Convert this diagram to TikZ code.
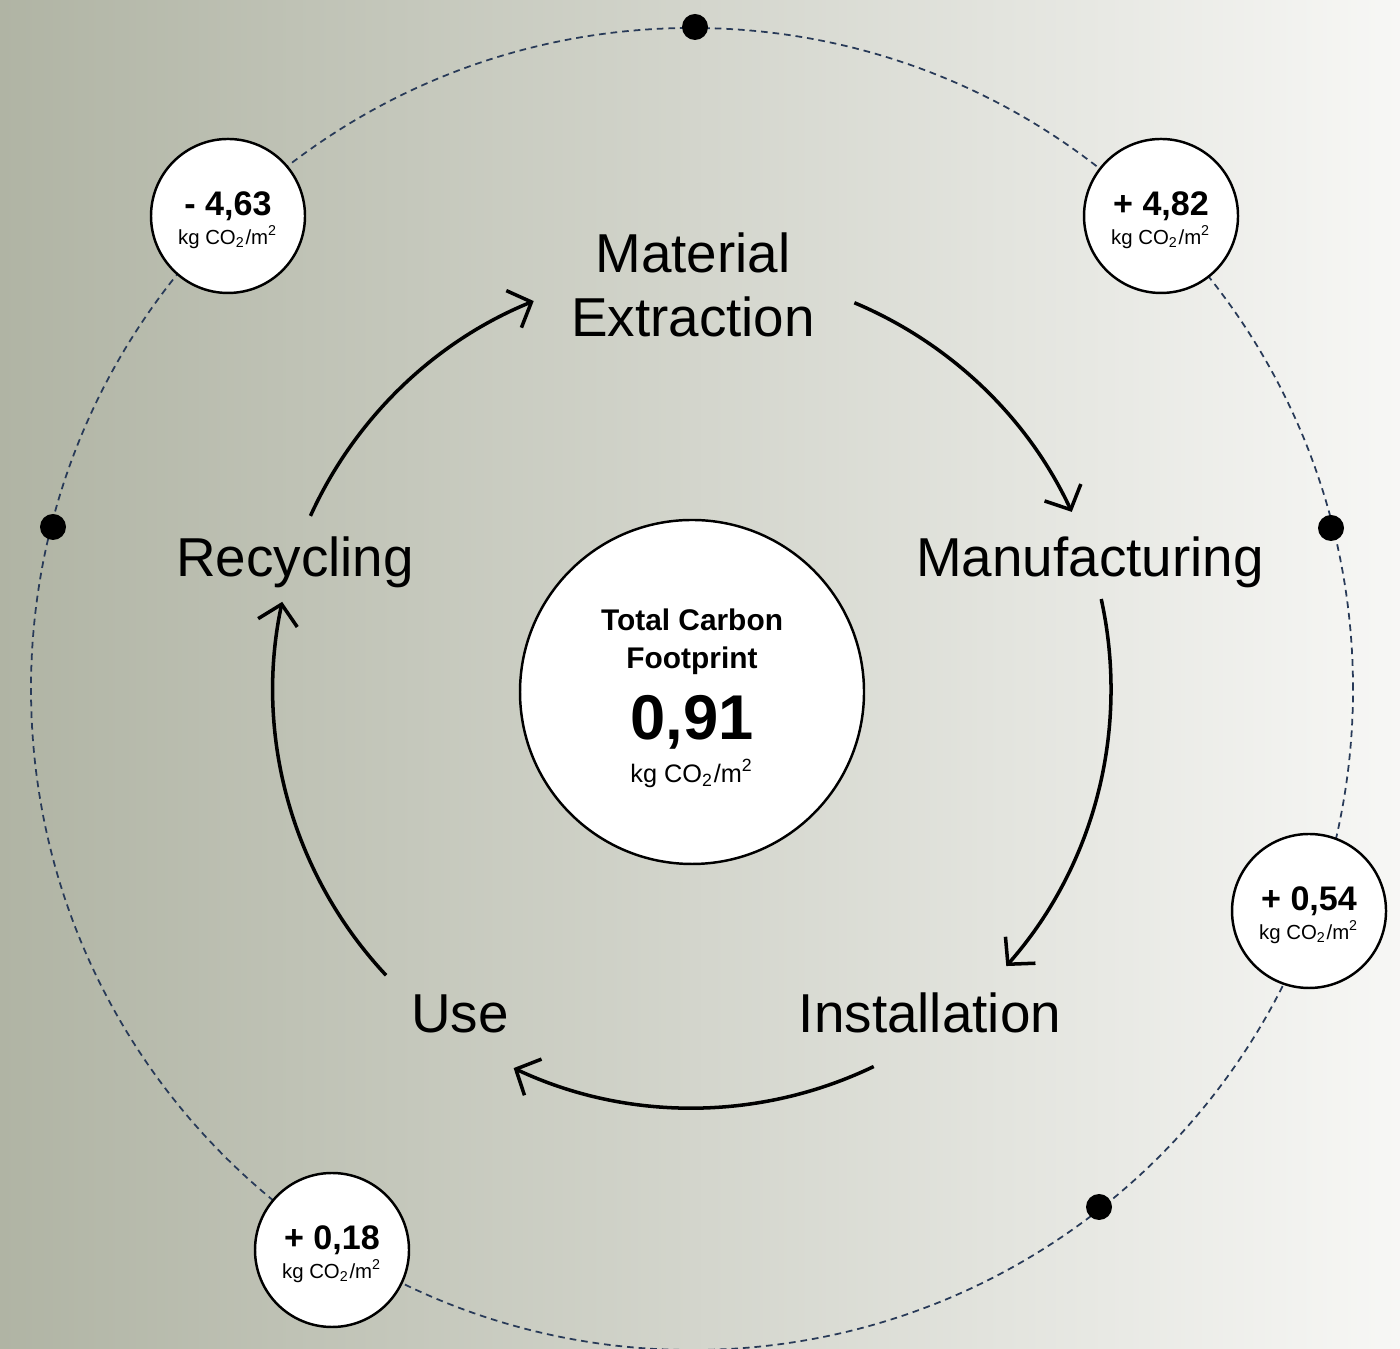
\documentclass[tikz,border=0pt]{standalone}
\usepackage{fontspec}
\setmainfont{Liberation Sans}
\usetikzlibrary{arrows.meta}

\definecolor{bgleft}{RGB}{176,180,164}
\definecolor{bgright}{RGB}{247,247,245}
\definecolor{orbit}{RGB}{40,58,88}
\newcommand{\kgunit}{kg CO\textsubscript{2}/m\textsuperscript{2}}
\newcommand{\valtext}[1]{{\fontsize{9.7}{12}\selectfont\bfseries\rule{0pt}{9.2pt}#1}\\\kgunit}

\begin{document}
\begin{tikzpicture}[x=0.1mm, y=0.1mm,
		every path/.style={>={Straight Barb[length=1.9mm, width=4mm]}},
		stage/.style={font=\fontsize{15.6}{18.2}\selectfont, inner sep=0pt, align=center},
		val/.style={circle, draw, fill=white, line width=0.7pt, minimum size=15.4mm,
			inner sep=0pt, align=center, font=\fontsize{5.8}{8}\selectfont},
		dot/.style={circle, fill=black, minimum size=2.6mm, inner sep=0pt},
		cyc/.style={->, line width=1pt}]
	\shade[left color=bgleft, right color=bgright] (0,0) rectangle (1400,1348);
	\useasboundingbox (0,0) rectangle (1400,1348);

	\coordinate (C) at (692,659);
	\draw[orbit, line width=0.5pt, dash pattern=on 1.9pt off 1.4pt] (C) circle[radius=661];

	\node[dot] (d1) at (695,1321) {};
	\node[dot] (d2) at (53,821) {};
	\node[dot] (d3) at (1331,820) {};
	\node[dot] (d4) at (1099,141) {};

	\node[val] (v1) at (228,1132) {\valtext{- 4,63}};
	\node[val] (v2) at (1161,1132) {\valtext{+ 4,82}};
	\node[val] (v3) at (1309,437) {\valtext{+ 0,54}};
	\node[val] (v4) at (332,98) {\valtext{+ 0,18}};

	\node[circle, draw, fill=white, line width=0.7pt, minimum size=34.4mm] (tot) at (692,656) {};
	\node[align=center, inner sep=0pt, font=\fontsize{8.5}{10.8}\selectfont] (totlbl) at (692,650)
		{\bfseries Total Carbon\\\bfseries Footprint\\[5pt]
		{\fontsize{18}{18}\selectfont\bfseries 0,91}\\[1.3pt]
		{\fontsize{7.2}{8}\selectfont\kgunit}};

	\node[stage] (mat) at (693,1063) {Material\\Extraction};
	\node[stage, anchor=base] (man) at (1090,771) {Manufacturing};
	\node[stage, anchor=base] (ins) at (930,315) {Installation};
	\node[stage, anchor=base] (use) at (460,315) {Use};
	\node[stage, anchor=base] (rec) at (295,771) {Recycling};

	\draw[cyc] ([shift={(67.2:419)}]C) arc[start angle=67.2, end angle=25, radius=419];
	\draw[cyc] ([shift={(12.4:419)}]C) arc[start angle=12.4, end angle=-41.4, radius=419];
	\draw[cyc] ([shift={(-64.3:419)}]C) arc[start angle=-64.3, end angle=-115.2, radius=419];
	\draw[cyc] ([shift={(223.1:419)}]C) arc[start angle=223.1, end angle=168, radius=419];
	\draw[cyc] ([shift={(155.6:419)}]C) arc[start angle=155.6, end angle=112.2, radius=419];
\end{tikzpicture}
\end{document}
